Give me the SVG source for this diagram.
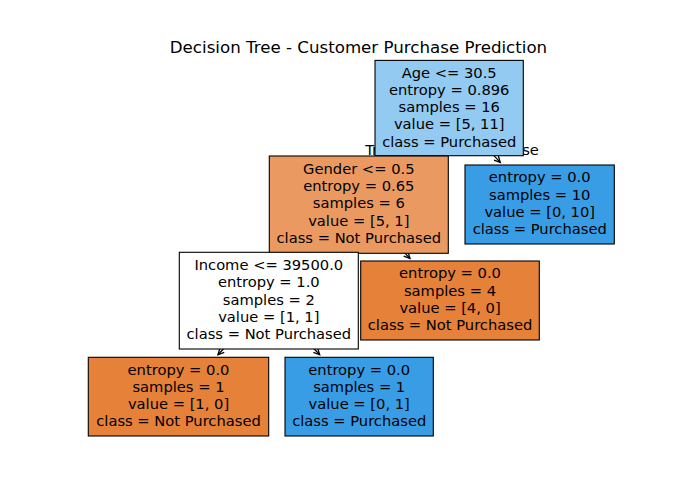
<svg xmlns="http://www.w3.org/2000/svg" width="700" height="500" viewBox="0 0 700 500">
<style>
text{font-family:"DejaVu Sans","Liberation Sans",sans-serif;fill:#000}
.t{font-size:14.7px;text-anchor:middle}
.title{font-size:16.67px;text-anchor:middle}
.lbl{font-size:14.7px}
.box{stroke:#000;stroke-width:1.1}
.edge{stroke:#000;stroke-width:1.2;fill:none}
</style>
<defs>
<marker id="ah" markerUnits="userSpaceOnUse" markerWidth="12" markerHeight="12" refX="0" refY="0" orient="auto" overflow="visible">
<path d="M-6,-3 L0,0 L-6,3" fill="none" stroke="#000" stroke-width="1.3"/>
</marker>
</defs>
<rect width="700" height="500" fill="#fff"/>
<text class="title" x="358.5" y="52.5">Decision Tree - Customer Purchase Prediction</text>
<g id="edge-labels">
<text class="lbl" x="396.5" y="155" text-anchor="end">True</text>
<text class="lbl" x="502" y="155">False</text>
</g>
<g id="connectors">
<line class="edge" x1="449.2" y1="108" x2="406.79" y2="153.44" marker-end="url(#ah)"/>
<line class="edge" x1="449.2" y1="108" x2="500.27" y2="162.45" marker-end="url(#ah)"/>
<line class="edge" x1="358.8" y1="204.7" x2="316.59" y2="249.75" marker-end="url(#ah)"/>
<line class="edge" x1="358.8" y1="204.7" x2="409.99" y2="258.47" marker-end="url(#ah)"/>
<line class="edge" x1="268.8" y1="300.7" x2="217.96" y2="354.75" marker-end="url(#ah)"/>
<line class="edge" x1="268.8" y1="300.7" x2="319.7" y2="354.75" marker-end="url(#ah)"/>
</g>
<g id="node-root">
<rect class="box" x="375" y="60.4" width="148.3" height="95.3" fill="#93caf1"/>
<text class="t" x="449.2" y="77.5">Age &lt;= 30.5</text>
<text class="t" x="449.2" y="94.75">entropy = 0.896</text>
<text class="t" x="449.2" y="112">samples = 16</text>
<text class="t" x="449.2" y="129.25">value = [5, 11]</text>
<text class="t" x="449.2" y="146.5">class = Purchased</text>
</g>
<g id="node-gender">
<rect class="box" x="269.3" y="156" width="179" height="97.3" fill="#ea9a61"/>
<text class="t" x="358.8" y="173.7">Gender &lt;= 0.5</text>
<text class="t" x="358.8" y="191">entropy = 0.65</text>
<text class="t" x="358.8" y="208.3">samples = 6</text>
<text class="t" x="358.8" y="225.6">value = [5, 1]</text>
<text class="t" x="358.8" y="242.9">class = Not Purchased</text>
</g>
<g id="node-leaf-right">
<rect class="box" x="465" y="165" width="149.3" height="79" fill="#399de5"/>
<text class="t" x="539.7" y="182.4">entropy = 0.0</text>
<text class="t" x="539.7" y="199.65">samples = 10</text>
<text class="t" x="539.7" y="216.9">value = [0, 10]</text>
<text class="t" x="539.7" y="234.15">class = Purchased</text>
</g>
<g id="node-income">
<rect class="box" x="179.3" y="252.3" width="179" height="96.7" fill="#ffffff"/>
<text class="t" x="268.8" y="270">Income &lt;= 39500.0</text>
<text class="t" x="268.8" y="287.25">entropy = 1.0</text>
<text class="t" x="268.8" y="304.5">samples = 2</text>
<text class="t" x="268.8" y="321.75">value = [1, 1]</text>
<text class="t" x="268.8" y="339">class = Not Purchased</text>
</g>
<g id="node-leaf-4">
<rect class="box" x="360.7" y="261" width="178.6" height="79" fill="#e58139"/>
<text class="t" x="450" y="278.4">entropy = 0.0</text>
<text class="t" x="450" y="295.65">samples = 4</text>
<text class="t" x="450" y="312.9">value = [4, 0]</text>
<text class="t" x="450" y="330.15">class = Not Purchased</text>
</g>
<g id="node-leaf-10">
<rect class="box" x="88.3" y="357.3" width="180.4" height="78.7" fill="#e58139"/>
<text class="t" x="178.5" y="374.5">entropy = 0.0</text>
<text class="t" x="178.5" y="391.75">samples = 1</text>
<text class="t" x="178.5" y="409">value = [1, 0]</text>
<text class="t" x="178.5" y="426.25">class = Not Purchased</text>
</g>
<g id="node-leaf-01">
<rect class="box" x="285" y="357.3" width="148.3" height="78.7" fill="#399de5"/>
<text class="t" x="359.2" y="374.5">entropy = 0.0</text>
<text class="t" x="359.2" y="391.75">samples = 1</text>
<text class="t" x="359.2" y="409">value = [0, 1]</text>
<text class="t" x="359.2" y="426.25">class = Purchased</text>
</g>
</svg>
